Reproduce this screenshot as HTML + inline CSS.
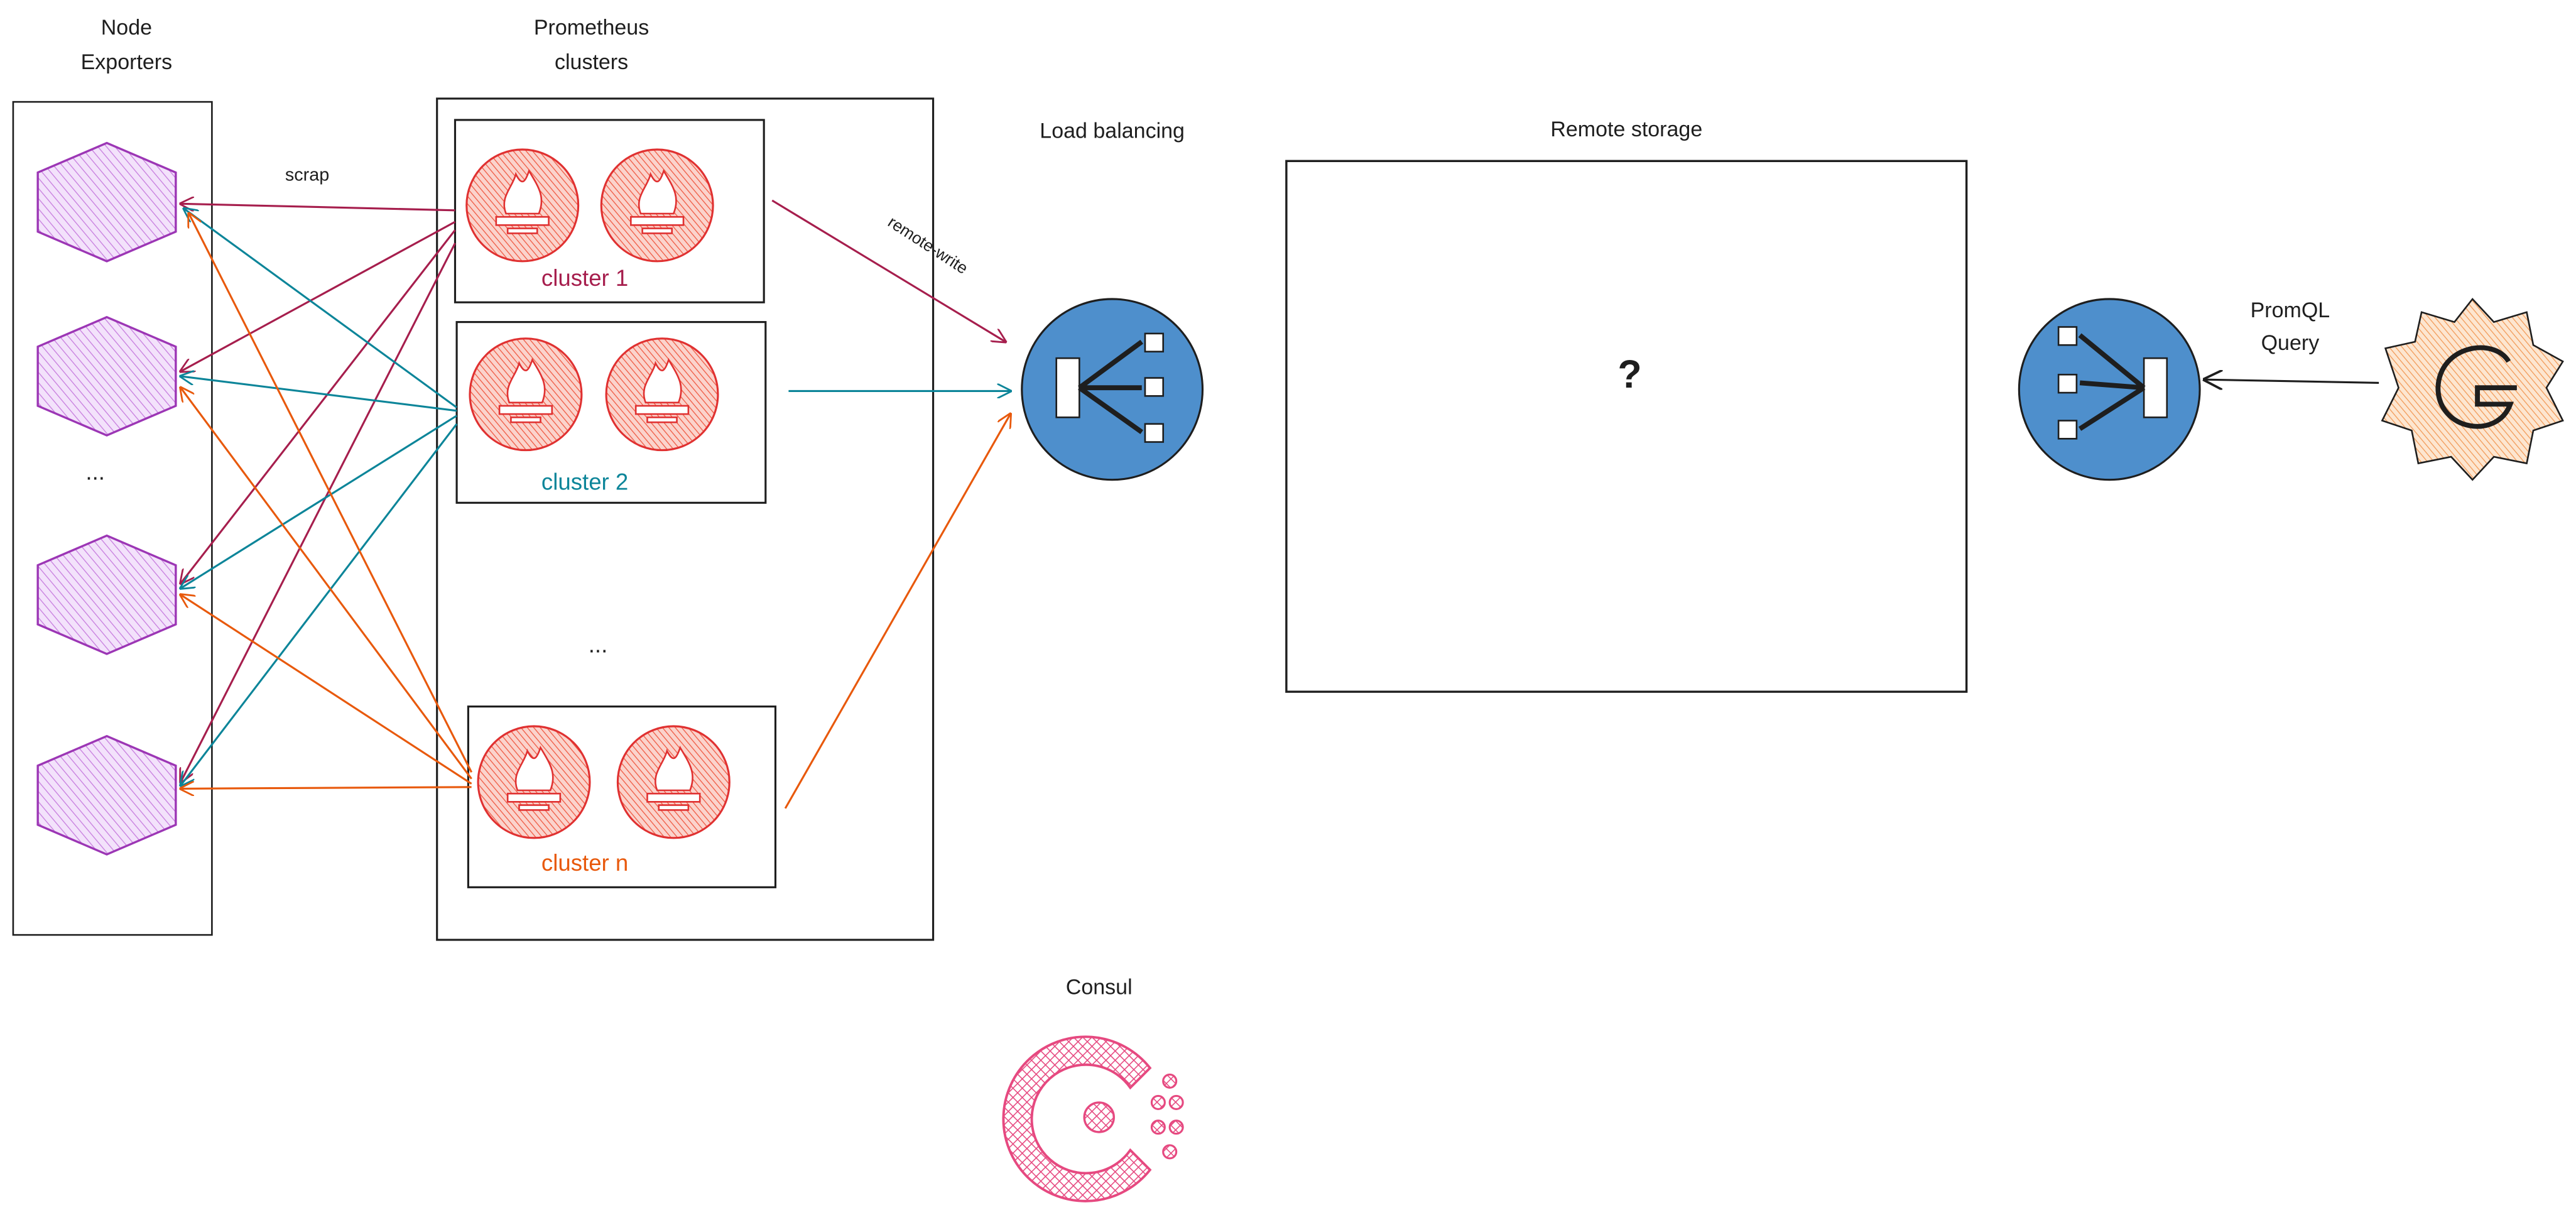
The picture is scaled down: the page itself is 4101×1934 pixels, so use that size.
<!DOCTYPE html>
<html><head><meta charset="utf-8"><style>
html,body{margin:0;padding:0;background:#fff;width:4101px;height:1934px;overflow:hidden}
svg{display:block}
text{font-family:"Liberation Sans",sans-serif;fill:#1e1e1e}
</style></head><body>
<svg width="4101" height="1934" viewBox="0 0 1568 739.47" preserveAspectRatio="none" xmlns="http://www.w3.org/2000/svg">
<defs>
<pattern id="hp" width="4" height="4" patternUnits="userSpaceOnUse" patternTransform="rotate(-40)"><rect width="4" height="4" fill="#f3e2fb"/><line x1="0" y1="0" x2="0" y2="4" stroke="#c77dde" stroke-width="1"/></pattern>
<pattern id="rp" width="3" height="3" patternUnits="userSpaceOnUse" patternTransform="rotate(-40)"><rect width="3" height="3" fill="#fbd3cc"/><line x1="0" y1="0" x2="0" y2="3" stroke="#ef5a43" stroke-width="1"/></pattern>
<pattern id="cp" width="4" height="4" patternUnits="userSpaceOnUse" patternTransform="rotate(45)"><rect width="4" height="4" fill="#fff"/><line x1="0" y1="0" x2="0" y2="4" stroke="#e64980" stroke-width="1.2"/><line x1="0" y1="0" x2="4" y2="0" stroke="#e64980" stroke-width="1.2"/></pattern>
<pattern id="op" width="3" height="3" patternUnits="userSpaceOnUse" patternTransform="rotate(-40)"><rect width="3" height="3" fill="#fde6d0"/><line x1="0" y1="0" x2="0" y2="3" stroke="#f29b5a" stroke-width="1"/></pattern>
<marker id="am" viewBox="0 0 10 10" refX="9" refY="5" markerWidth="9" markerHeight="9" orient="auto-start-reverse" markerUnits="userSpaceOnUse"><path d="M0,0 L10,5 L0,10" fill="none" stroke="#a61e4d" stroke-width="1.2"/></marker>
<marker id="at" viewBox="0 0 10 10" refX="9" refY="5" markerWidth="9" markerHeight="9" orient="auto-start-reverse" markerUnits="userSpaceOnUse"><path d="M0,0 L10,5 L0,10" fill="none" stroke="#0c8599" stroke-width="1.2"/></marker>
<marker id="ao" viewBox="0 0 10 10" refX="9" refY="5" markerWidth="9" markerHeight="9" orient="auto-start-reverse" markerUnits="userSpaceOnUse"><path d="M0,0 L10,5 L0,10" fill="none" stroke="#e8590c" stroke-width="1.2"/></marker>
<marker id="ab" viewBox="0 0 10 10" refX="9" refY="5" markerWidth="12" markerHeight="12" orient="auto" markerUnits="userSpaceOnUse"><path d="M0,0 L10,5 L0,10" fill="none" stroke="#1e1e1e" stroke-width="1.2"/></marker>
<g id="fl"><path d="M-10,8 C-14,-2 -6,-8 -4,-16 C0,-8 2,-12 4,-18 C10,-8 14,-2 10,8Z"/><rect x="-16" y="10" width="32" height="5"/><rect x="-9" y="17" width="18" height="3"/></g>
</defs>

<g font-size="13" text-anchor="middle">
<text x="77" y="21">Node</text><text x="77" y="42">Exporters</text>
<text x="360" y="21">Prometheus</text><text x="360" y="42">clusters</text>
<text x="677" y="84">Load balancing</text>
<text x="990" y="83">Remote storage</text>
<text x="1394" y="193">PromQL</text><text x="1394" y="213">Query</text>
<text x="669" y="605">Consul</text>
<text x="187" y="110" font-size="11">scrap</text>
<text x="563" y="152" font-size="10" transform="rotate(33 563 152)">remote-write</text>
</g>

<rect x="8" y="62" width="121" height="507" fill="none" stroke="#1e1e1e" stroke-width="1"/>
<g fill="url(#hp)" stroke="#9c36b5" stroke-width="1.3">
<path d="M65,87 L107,105 L107,141 L65,159 L23,141 L23,105Z"/>
<path d="M65,193 L107,211 L107,247 L65,265 L23,247 L23,211Z"/>
<path d="M65,326 L107,344 L107,380 L65,398 L23,380 L23,344Z"/>
<path d="M65,448 L107,466 L107,502 L65,520 L23,502 L23,466Z"/>
</g>
<text x="58" y="292" font-size="14" text-anchor="middle">...</text>

<rect x="266" y="60" width="302" height="512" fill="none" stroke="#1e1e1e" stroke-width="1.2"/>
<rect x="277" y="73" width="188" height="111" fill="#fff" stroke="#1e1e1e" stroke-width="1.2"/>
<rect x="278" y="196" width="188" height="110" fill="#fff" stroke="#1e1e1e" stroke-width="1.2"/>
<rect x="285" y="430" width="187" height="110" fill="#fff" stroke="#1e1e1e" stroke-width="1.2"/>
<g stroke="#e03131" stroke-width="1.2" fill="url(#rp)">
<circle cx="318" cy="125" r="34"/><circle cx="400" cy="125" r="34"/>
<circle cx="320" cy="240" r="34"/><circle cx="403" cy="240" r="34"/>
<circle cx="325" cy="476" r="34"/><circle cx="410" cy="476" r="34"/>
</g>
<g fill="#fff" stroke="#e03131" stroke-width="1">
<use href="#fl" x="318" y="122"/><use href="#fl" x="400" y="122"/>
<use href="#fl" x="320" y="237"/><use href="#fl" x="403" y="237"/>
<use href="#fl" x="325" y="473"/><use href="#fl" x="410" y="473"/>
</g>
<g font-size="14" text-anchor="middle">
<text x="356" y="174" style="fill:#a61e4d">cluster 1</text>
<text x="356" y="298" style="fill:#0c8599">cluster 2</text>
<text x="356" y="530" style="fill:#e8590c">cluster n</text>
<text x="364" y="397">...</text>
</g>

<g fill="none" stroke-width="1.2">
<g stroke="#a61e4d" marker-end="url(#am)">
<path d="M277,128 L110,124"/><path d="M277,135 L110,226"/><path d="M277,140 L110,355"/><path d="M277,148 L110,476"/>
</g>
<g stroke="#0c8599" marker-end="url(#at)">
<path d="M278,248 L112,127"/><path d="M278,250 L110,229"/><path d="M278,253 L110,358"/><path d="M278,258 L110,478"/>
</g>
<g stroke="#e8590c" marker-end="url(#ao)">
<path d="M287,470 L115,130"/><path d="M287,474 L110,236"/><path d="M287,477 L110,362"/><path d="M287,479 L110,480"/>
</g>
<path d="M470,122 L612,208" stroke="#a61e4d" marker-end="url(#am)"/>
<path d="M480,238 L615,238" stroke="#0c8599" marker-end="url(#at)"/>
<path d="M478,492 L615,252" stroke="#e8590c" marker-end="url(#ao)"/>
</g>

<g stroke="#1e1e1e" stroke-width="1.2">
<circle cx="677" cy="237" r="55" fill="#4e8fcc"/>
<circle cx="1284" cy="237" r="55" fill="#4e8fcc"/>
</g>
<path d="M1448,233 L1342,231" fill="none" stroke="#1e1e1e" stroke-width="1.2" marker-end="url(#ab)"/>
<g fill="#fff" stroke="#1e1e1e" stroke-width="1">
<rect x="643" y="218" width="14" height="36"/><rect x="697" y="203" width="11" height="11"/><rect x="697" y="230" width="11" height="11"/><rect x="697" y="258" width="11" height="11"/>
<path d="M657,236 L695,208 M657,236 L695,236 M657,236 L695,263" stroke-width="3"/>
<rect x="1305" y="218" width="14" height="36"/><rect x="1253" y="199" width="11" height="11"/><rect x="1253" y="228" width="11" height="11"/><rect x="1253" y="256" width="11" height="11"/>
<path d="M1305,236 L1266,204 M1305,236 L1266,233 M1305,236 L1266,261" stroke-width="3"/>
</g>

<rect x="783" y="98" width="414" height="323" fill="none" stroke="#1e1e1e" stroke-width="1.3"/>
<text x="992" y="236" font-size="24" font-weight="bold" text-anchor="middle">?</text>

<path d="M1505,182 L1518,196 L1538,190 L1542,210 L1560,220 L1550,236 L1560,256 L1542,262 L1538,282 L1518,278 L1505,292 L1492,278 L1472,282 L1468,262 L1450,256 L1460,236 L1452,212 L1470,208 L1474,190 L1494,196Z" fill="url(#op)" stroke="#1e1e1e" stroke-width="1"/>
<path d="M1527,220 C1518,205 1485,210 1484,236 C1484,262 1520,268 1528,246 L1508,246 L1508,236 L1532,236" fill="none" stroke="#1e1e1e" stroke-width="3"/>

<path d="M700,650 A50,50 0 1,0 700,712 L688,700 A33,33 0 1,1 688,662Z" fill="url(#cp)" stroke="#e64980" stroke-width="1.5"/>
<circle cx="669" cy="680" r="9" fill="url(#cp)" stroke="#e64980" stroke-width="1.3"/>
<g fill="url(#cp)" stroke="#e64980" stroke-width="1.2">
<circle cx="712" cy="658" r="4"/><circle cx="705" cy="671" r="4"/><circle cx="716" cy="671" r="4"/><circle cx="705" cy="686" r="4"/><circle cx="716" cy="686" r="4"/><circle cx="712" cy="701" r="4"/>
</g>
</svg>
</body></html>
